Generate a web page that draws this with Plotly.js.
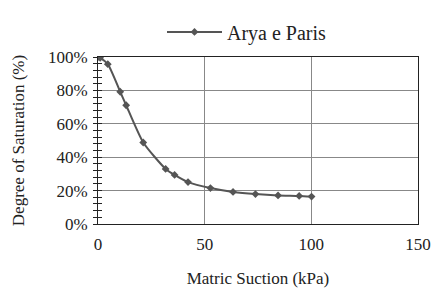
<!DOCTYPE html>
<html><head><meta charset="utf-8">
<script src="https://cdn.plot.ly/plotly-3.0.1.min.js"></script>
<style>body{margin:0;background:#fff}#c{width:432px;height:289px}</style>
</head><body><div id="c"></div>
<script>
const seriesName = "Arya e Paris";
const suction = [0, 1, 4.6, 10.4, 13.2, 21.2, 31.7, 35.9, 42.2, 52.7, 63.3, 73.8, 84.4, 94.3, 100.1];
const saturation = [1.00, 0.995, 0.957, 0.792, 0.711, 0.488, 0.330, 0.294, 0.251, 0.215, 0.192, 0.179, 0.171, 0.168, 0.164];
const xTickVals = [0, 50, 100, 150];
const yTickVals = [0, 0.2, 0.4, 0.6, 0.8, 1.0];
const yTickText = ["0%", "20%", "40%", "60%", "80%", "100%"];

const font = {family: "Liberation Serif, Times New Roman, serif", color: "#222", size: 17};
const data = [
  {x: suction, y: saturation, type: "scatter", mode: "lines+markers", name: seriesName,
   line: {color: "#555", width: 2, shape: "spline", smoothing: 0.6},
   marker: {symbol: "diamond", size: 6, color: "#555"}},
  {x: [0], y: [0], yaxis: "y2", mode: "none", showlegend: false, hoverinfo: "skip"}
];
const layout = {
  width: 432, height: 289,
  margin: {l: 98, r: 14, t: 45, b: 65},
  paper_bgcolor: "#fff", plot_bgcolor: "#fff",
  font: font,
  showlegend: true,
  legend: {x: 0.2, y: 1.15, xanchor: "left", yanchor: "middle", orientation: "h",
    itemwidth: 55,
    font: {family: font.family, size: 20, color: "#222"}, bgcolor: "rgba(0,0,0,0)"},
  xaxis: {range: [0, 150], tickvals: xTickVals, ticktext: xTickVals.map(String),
    showgrid: true, gridcolor: "#888", gridwidth: 1,
    showline: true, linecolor: "#222", linewidth: 1, mirror: true,
    ticks: "", zeroline: false, tickfont: {size: 17}, ticklabelstandoff: 5,
    title: {text: "Matric Suction (kPa)", font: {size: 17}, standoff: 18}},
  yaxis: {range: [0, 1], tickvals: yTickVals, ticktext: yTickText,
    showgrid: true, gridcolor: "#888", gridwidth: 1,
    showline: true, linecolor: "#222", linewidth: 1, mirror: true,
    ticks: "outside", ticklen: 4, tickcolor: "#222",
    minor: {dtick: 0.04, ticks: "outside", ticklen: 4, tickcolor: "#222", showgrid: false},
    zeroline: false, tickfont: {size: 17}, ticklabelstandoff: 2,
    title: {text: "Degree of Saturation (%)", font: {size: 17}, standoff: 18}},
  yaxis2: {range: [0, 1], overlaying: "y", side: "left", tickvals: yTickVals, showticklabels: false,
    showgrid: false, showline: false, zeroline: false,
    ticks: "inside", ticklen: 4, tickcolor: "#222",
    minor: {dtick: 0.04, ticks: "inside", ticklen: 4, tickcolor: "#222", showgrid: false}}
};
Plotly.newPlot("c", data, layout, {staticPlot: true, displayModeBar: false});
</script></body></html>
